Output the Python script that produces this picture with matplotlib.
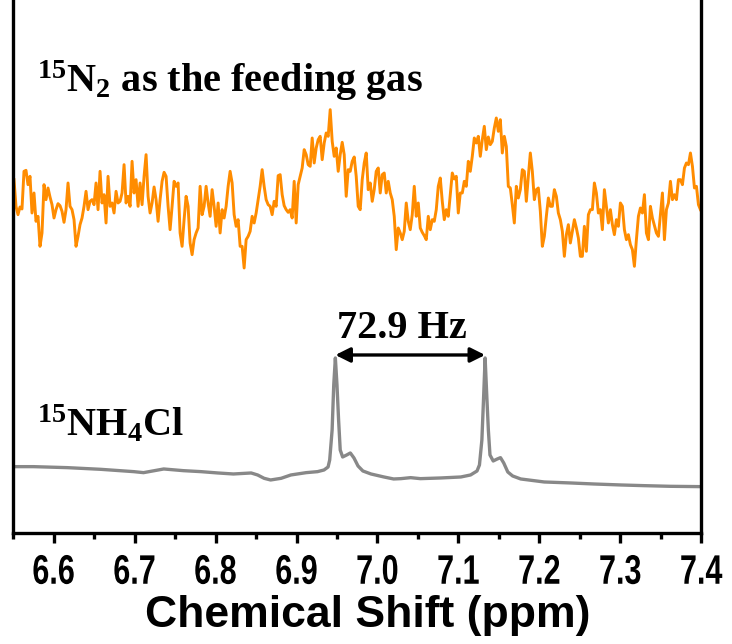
import matplotlib
matplotlib.use('Agg')
import matplotlib.pyplot as plt
import numpy as np
from matplotlib import patheffects
from matplotlib.ticker import MultipleLocator
from matplotlib.transforms import Affine2D

plt.rcParams['font.family'] = 'Liberation Sans'
plt.rcParams['font.weight'] = 'bold'
plt.rcParams['mathtext.fontset'] = 'custom'
plt.rcParams['mathtext.rm'] = 'Liberation Serif:bold'
plt.rcParams['mathtext.it'] = 'Liberation Serif:italic:bold'
plt.rcParams['mathtext.bf'] = 'Liberation Serif:bold'
plt.rcParams['mathtext.default'] = 'rm'


class Stretch(patheffects.AbstractPathEffect):
    """Scale glyph outlines about the text origin (tall, narrow tick digits)."""

    def __init__(self, sx=1.0, sy=1.0):
        super().__init__()
        self._sx = sx
        self._sy = sy

    def draw_path(self, renderer, gc, tpath, affine, rgbFace=None):
        affine = Affine2D().scale(self._sx, self._sy) + affine
        renderer.draw_path(gc, tpath, affine, rgbFace)


# 15N2 feeding-gas spectrum, evenly sampled from 6.551 to 7.399 ppm (relative intensity)
n2_start, n2_end = 6.551, 7.399
n2_rel = [
    60, -20, -45, -22, -28, 85, 88, 45, 70, -40,
    20, -65, -50, -140, -100, 45, 0, 35, 8, -15,
    -55, -30, -12, -18, -35, -68, -30, 50, -20, -30,
    -60, -140, -110, -75, -55, -20, 25, -30, -5, 0,
    -15, 50, -30, 85, -10, 15, -70, 70, -20, -10,
    -40, 25, -10, -5, 20, 105, -10, 10, -20, 115,
    20, 60, -20, 50, -15, 70, 135, 10, -40, -10,
    38, 0, -65, 0, 55, 82, 70, -20, -90, -20,
    55, 40, 50, -100,
    -140, -60, 10, -20, -130, -165, -120, -100, -85, 40,
    -45, -20, 40, -10, -50, 30, -20, -80, -10, -100,
    -30, -55, -20, 40, 85, 50, -45, -80, -60, -140,
    -140, -205, -120, -110, -95, -50, -70, -40, 0, 40,
    90, 40, 0, -15, -20, -45, -5, -20, 72, 75,
    15, -18, -30, -38, -30, -55, 55, -70, 45, 70,
    95, 150, 135, 105, 100, 185, 110, 155, 180, 190,
    120, 170, 200, 190, 270, 175, 130, 155, 85, 135,
    172, 135, 10, 90, 85,
    115, 128, 70, -20, -30, 60, 110, 140, 30, 50,
    -5, 30, 85, 95, 20, 75, 80, 20, 55, 20,
    0, -50, -150, -85, -100, -120, -95, -10, -65, -90,
    -45, 40, -50, -10, -85, -98, -108, -120, -50, -90,
    -60, -65, -30, 40, 65, -5, -60, -30, -50, 15,
    80, 62, 70, -40, 20, 20, 55, 40, 115, 85,
    130, 185, 170, 190, 130, 180, 220, 150, 188, 165,
    175, 215, 245, 205, 240, 140, 190, 160, 40, 35,
    -15, -70, 40, 5, 30,
    90, 85, -5, 70, 140, 85, 0, 30, 35, -35,
    -140, -110, -50, 5, -20, -20, 30, 10, -40, -60,
    -95, -170, -105, -75, -130, -95, -60, -85, -115, -170,
    -170, -80, -155, -45, -30, -30, 50, 20, -40, -30,
    -90, 30, -20, -70, -30, -75, -105, -60, -80, -10,
    -20, -90, -120, -105, -135, -150, -200, -120, -50, -25,
    -40, 15, -100, -120, -20, -55, -78, -100, -110, -45,
    20, -120, -30, -10, 55, 0, 15, 0, 60, 60,
    45, 95, 110, 105, 140, 100, 35, 40, -15, -30,
]
n2_offset = 1000

# 15NH4Cl reference spectrum
nh4_ppm = [6.551, 6.575, 6.617, 6.658, 6.699, 6.711, 6.736, 6.760, 6.782, 6.803,
           6.822, 6.844, 6.852, 6.860, 6.868, 6.881, 6.893, 6.912, 6.926, 6.934,
           6.939, 6.941, 6.944, 6.946, 6.948, 6.950, 6.952, 6.954, 6.957, 6.962,
           6.9665, 6.971, 6.976, 6.982, 6.992, 7.008, 7.020, 7.029, 7.041, 7.053,
           7.078, 7.103, 7.115, 7.123, 7.126, 7.129, 7.131, 7.133, 7.135, 7.137,
           7.139, 7.143, 7.148, 7.152, 7.156, 7.161, 7.167, 7.177, 7.206, 7.239,
           7.267, 7.301, 7.329, 7.362, 7.400]
nh4_int = [199, 199, 196, 191, 184, 181, 192, 187, 184, 180,
           177, 180, 174, 164, 159, 164, 174, 181, 184, 189,
           198, 219, 309, 444, 525, 444, 339, 249, 228, 234,
           240, 225, 201, 186, 177, 168, 162, 163, 166, 163,
           165, 168, 174, 186, 204, 279, 399, 525, 414, 309,
           234, 216, 222, 226, 210, 183, 171, 162, 153, 150,
           147, 144, 142, 140, 139]

# doublet peaks joined by the coupling arrow
peak_left, peak_right = 6.948, 7.133
coupling_label = '72.9 Hz'

n2_ppm = np.linspace(n2_start, n2_end, len(n2_rel))
n2_int = n2_offset + np.array(n2_rel)

fig = plt.figure(figsize=(7.32, 6.44), dpi=100)
ax = fig.add_axes([0.018, 0.1724, 0.940, 0.8276])

ax.plot(n2_ppm, n2_int, color='#ff8c00', lw=2.1, solid_joinstyle='round')
ax.plot(nh4_ppm, nh4_int, color='#888888', lw=2.4, solid_joinstyle='round')

ax.annotate('', xy=(peak_right, 534), xytext=(peak_left, 534),
            arrowprops=dict(arrowstyle='<|-|>', color='black', lw=2.4,
                            mutation_scale=22, shrinkA=0, shrinkB=0))
ax.text((peak_left + peak_right) / 2 - 0.01, 585, coupling_label,
        ha='center', va='baseline', fontsize=29,
        family='Liberation Serif', weight='bold')

fig.text(0.0505, 0.857, r'${}^{15}$N${}_{2}$ as the feeding gas',
         ha='left', va='baseline', fontsize=29,
         family='Liberation Serif', weight='bold')
fig.text(0.0505, 0.322, r'${}^{15}$NH${}_{4}$Cl',
         ha='left', va='baseline', fontsize=29,
         family='Liberation Serif', weight='bold')

ax.set_xlim(6.55, 7.40)
ax.set_ylim(0, 1599)
ax.xaxis.set_major_locator(MultipleLocator(0.1))
ax.xaxis.set_minor_locator(MultipleLocator(0.05))
ax.set_yticks([])
ax.spines['top'].set_visible(False)
for side in ['left', 'right', 'bottom']:
    ax.spines[side].set_linewidth(2.4)
ax.tick_params(axis='x', which='major', direction='out', length=7, width=2.4,
               labelsize=22, pad=13)
ax.tick_params(axis='x', which='minor', direction='out', length=4, width=2.4)
for lbl in ax.get_xticklabels():
    lbl.set_fontweight('bold')
    lbl.set_path_effects([Stretch(1.0, 1.35)])
ax.set_xlabel('Chemical Shift (ppm)', fontsize=32, fontweight='bold', labelpad=3)
ax.xaxis.label.set_x(0.516)

plt.savefig('out.png', dpi=100)
